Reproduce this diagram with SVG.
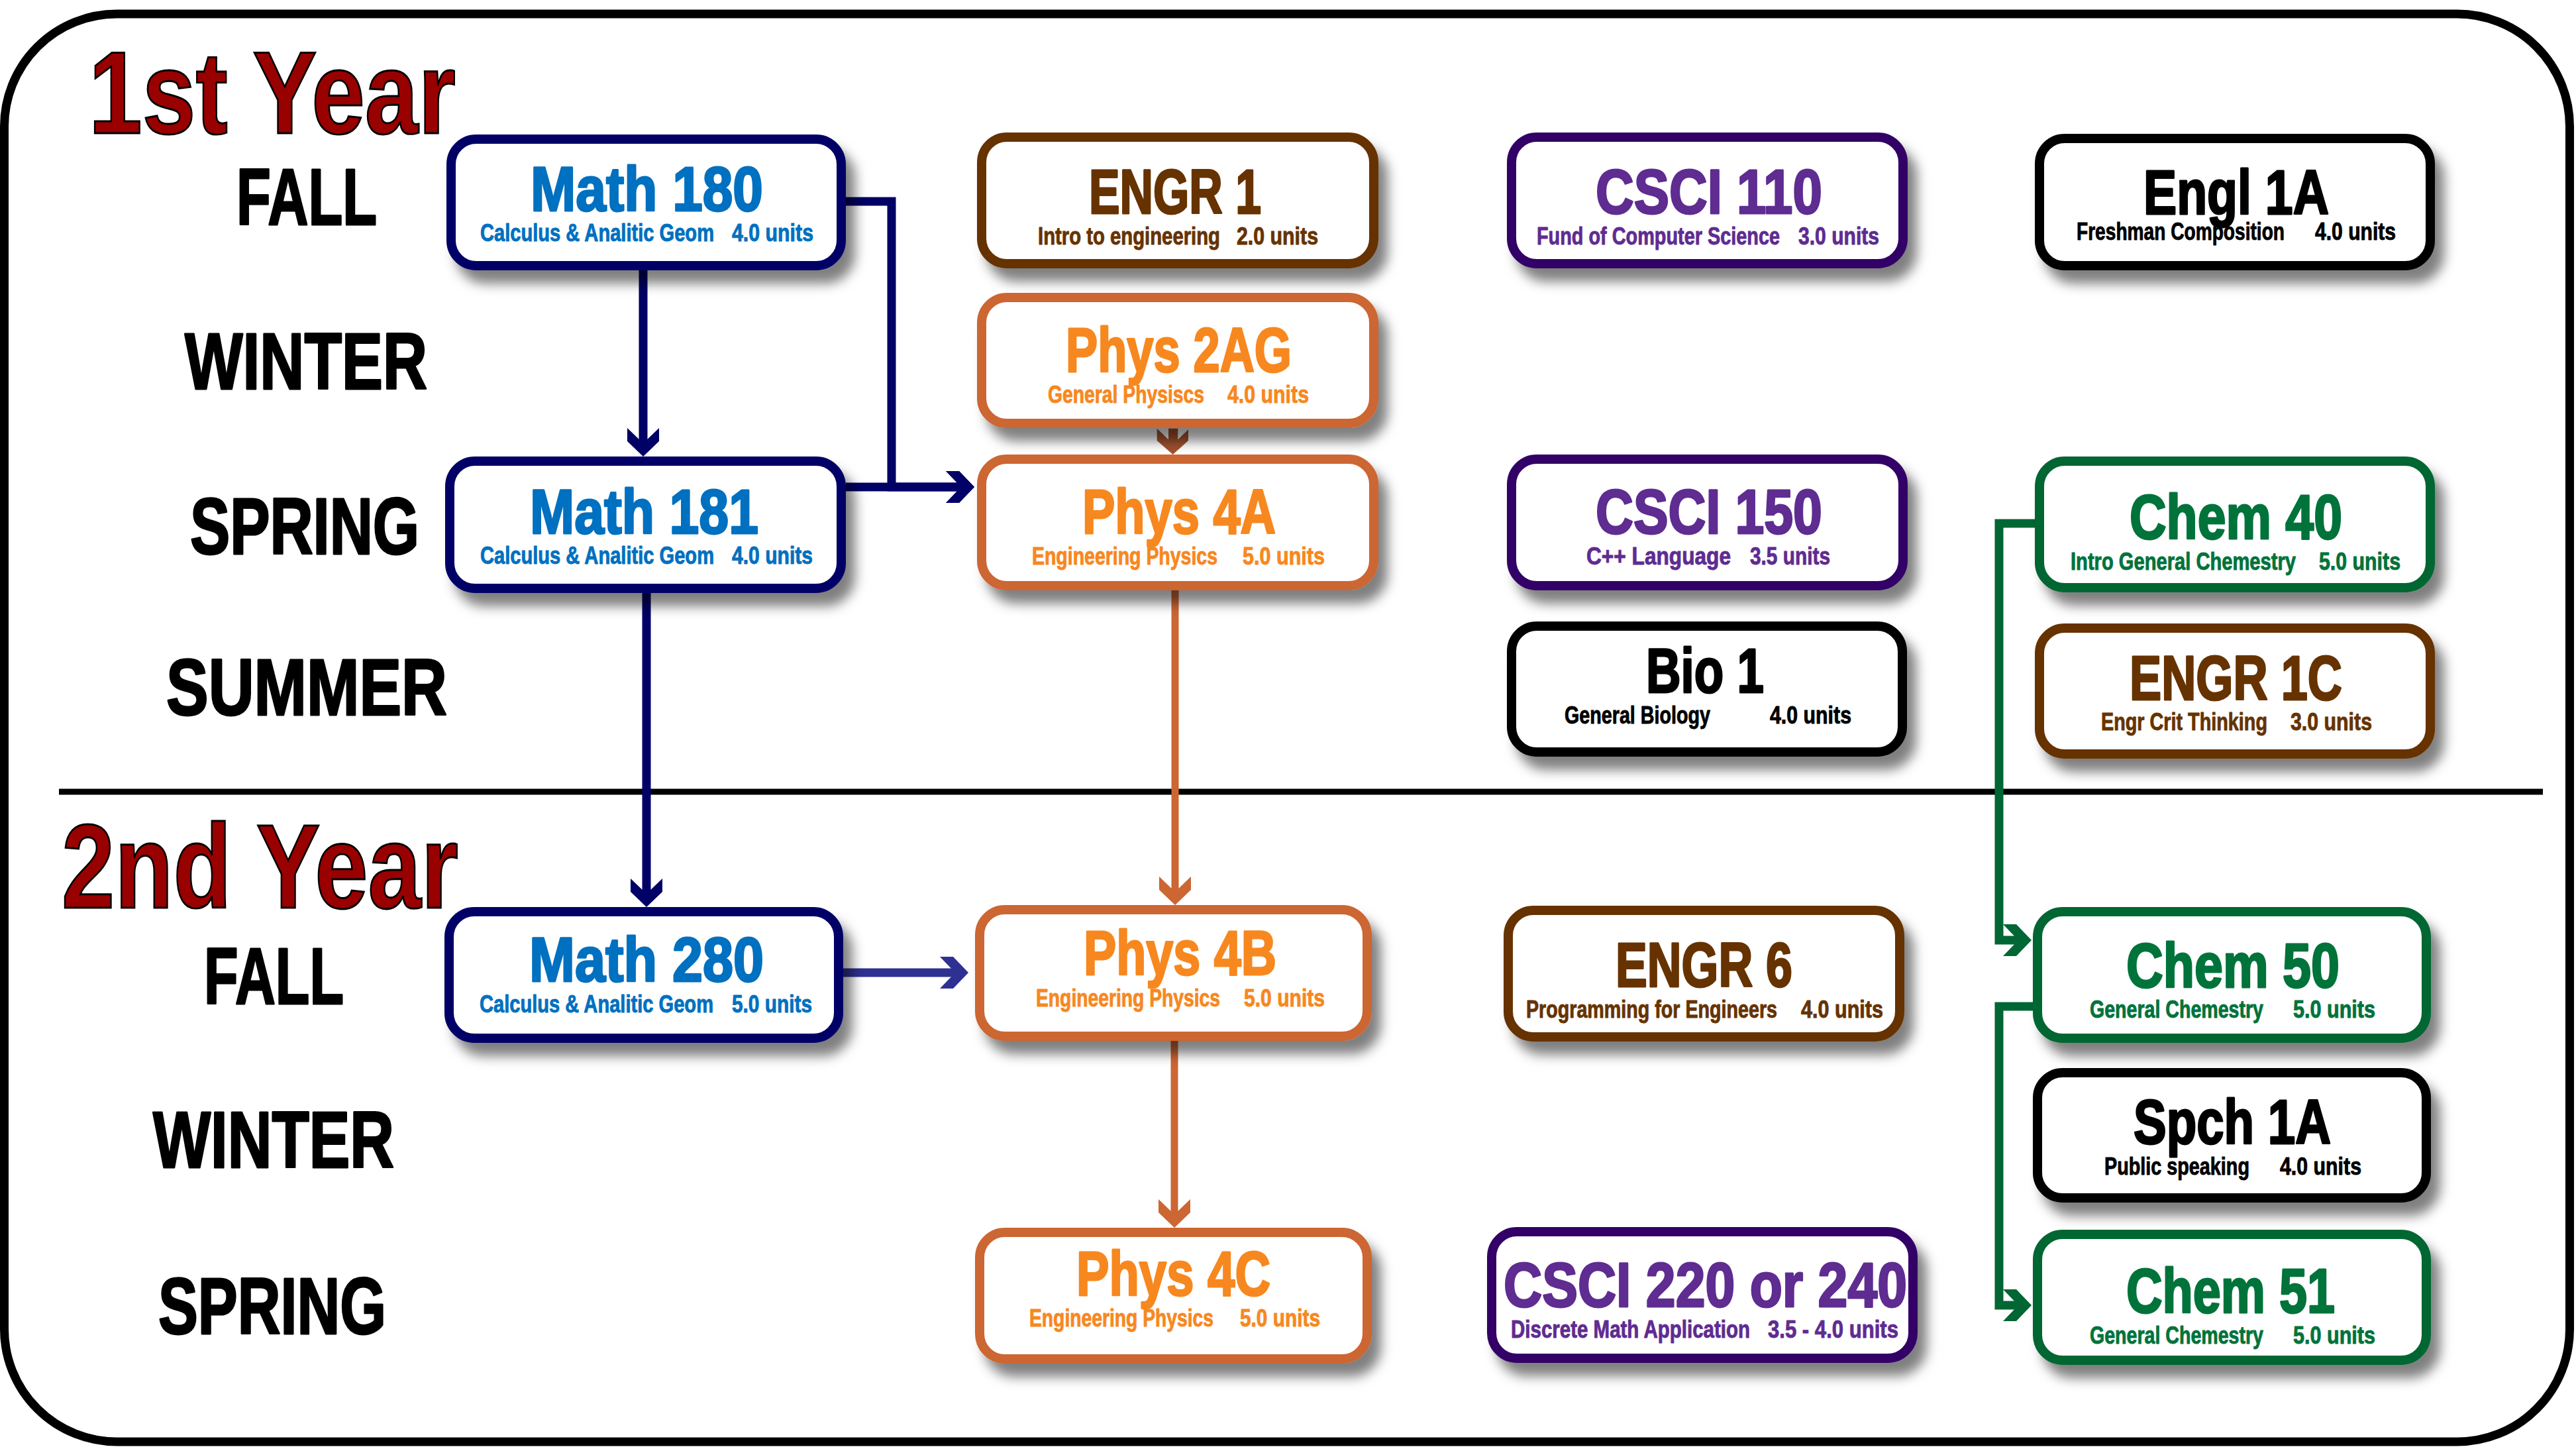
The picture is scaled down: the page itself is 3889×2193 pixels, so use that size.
<svg xmlns="http://www.w3.org/2000/svg" width="3889" height="2193" viewBox="0 0 3889 2193">
<style>
.box{fill:#fff;stroke-width:14;filter:url(#sh)}
.t{font-family:"Liberation Sans Narrow","Liberation Sans",Arial,sans-serif;font-weight:bold;font-size:95px;stroke-width:3;stroke-linejoin:round}
.s{font-family:"Liberation Sans Narrow","Liberation Sans",Arial,sans-serif;font-weight:bold;font-size:36px;stroke-width:0.9;stroke-linejoin:round}
.season{font-family:"Liberation Sans",Arial,sans-serif;font-weight:bold;font-size:121px;fill:#000;stroke:#000;stroke-width:3;stroke-linejoin:round}
.yr{font-family:"Liberation Sans",Arial,sans-serif;font-weight:bold;fill:#990000;stroke:#000;stroke-width:3}
.math .box{stroke:#000066}.math text{fill:#0070c0;stroke:#0070c0}
.engr .box{stroke:#663300}.engr text{fill:#663300;stroke:#663300}
.phys .box{stroke:#cc6633}.phys text{fill:#f7881f;stroke:#f7881f}
.csci .box{stroke:#330066}.csci text{fill:#5f2c91;stroke:#5f2c91}
.blk .box{stroke:#000}.blk text{fill:#000;stroke:#000}
.chem .box{stroke:#006633}.chem text{fill:#00733b;stroke:#00733b}
.c{fill:none;stroke-linejoin:miter}
</style>
<defs>
<filter id="sh" x="-10%" y="-15%" width="130%" height="160%">
<feDropShadow dx="14" dy="20" stdDeviation="9" flood-color="#000" flood-opacity="0.5"/>
</filter>
<marker id="ah-navy" viewBox="-46 -26 50 52" refX="-16" refY="0" markerWidth="50" markerHeight="52" markerUnits="userSpaceOnUse" orient="auto"><path d="M0,0 L-23,-24 L-43,-24 L-20,0 L-43,24 L-23,24 Z" fill="#000066"/></marker>
<marker id="ah-indigo" viewBox="-46 -26 50 52" refX="-16" refY="0" markerWidth="50" markerHeight="52" markerUnits="userSpaceOnUse" orient="auto"><path d="M0,0 L-23,-24 L-43,-24 L-20,0 L-43,24 L-23,24 Z" fill="#2e3192"/></marker>
<marker id="ah-orange" viewBox="-46 -26 50 52" refX="-16" refY="0" markerWidth="50" markerHeight="52" markerUnits="userSpaceOnUse" orient="auto"><path d="M0,0 L-23,-24 L-43,-24 L-20,0 L-43,24 L-23,24 Z" fill="#cc6633"/></marker>
<marker id="ah-green" viewBox="-46 -26 50 52" refX="-16" refY="0" markerWidth="50" markerHeight="52" markerUnits="userSpaceOnUse" orient="auto"><path d="M0,0 L-23,-24 L-43,-24 L-20,0 L-43,24 L-23,24 Z" fill="#006633"/></marker>
</defs>
<rect x="0" y="0" width="3889" height="2193" fill="#fff"/>
<rect id="frame" x="6.5" y="21" width="3873" height="2155" rx="170" ry="170" fill="none" stroke="#000" stroke-width="13"/>
<line id="divider" x1="89" y1="1195" x2="3839" y2="1195" stroke="#000" stroke-width="9"/>

<g id="labels">
<text class="yr" x="134" y="201" font-size="177" textLength="554" lengthAdjust="spacingAndGlyphs">1st Year</text>
<text class="season" x="357" y="339" textLength="212" lengthAdjust="spacingAndGlyphs">FALL</text>
<text class="season" x="279" y="587" textLength="366" lengthAdjust="spacingAndGlyphs">WINTER</text>
<text class="season" x="287" y="836" textLength="346" lengthAdjust="spacingAndGlyphs">SPRING</text>
<text class="season" x="251" y="1079" textLength="424" lengthAdjust="spacingAndGlyphs">SUMMER</text>
<text class="yr" x="93" y="1370" font-size="180" textLength="599" lengthAdjust="spacingAndGlyphs">2nd Year</text>
<text class="season" x="308" y="1515" textLength="211" lengthAdjust="spacingAndGlyphs">FALL</text>
<text class="season" x="231" y="1762" textLength="364" lengthAdjust="spacingAndGlyphs">WINTER</text>
<text class="season" x="239" y="2013" textLength="344" lengthAdjust="spacingAndGlyphs">SPRING</text>
</g>

<g id="connectors">
<path class="c" d="M1277,304 H1346 V735 H1455" stroke="#000066" stroke-width="13" marker-end="url(#ah-navy)"/>
<path class="c" d="M1277,735 H1455" stroke="#000066" stroke-width="13" marker-end="url(#ah-navy)"/>
<path class="c" d="M971,408 V673" stroke="#000066" stroke-width="13" marker-end="url(#ah-navy)"/>
<path class="c" d="M976,895 V1353" stroke="#000066" stroke-width="13" marker-end="url(#ah-navy)"/>
<path class="c" d="M1273,1468 H1446" stroke="#2e3192" stroke-width="13" marker-end="url(#ah-indigo)"/>
<polygon points="1746.7,646.7 1764,663.3 1764,646.7 1778.3,646.7 1778.3,663.3 1794,648.3 1794,665 1770.7,686 1746.7,665" fill="#a0522d"/>
<path class="c" d="M1774,891 V1350" stroke="#cc6633" stroke-width="11" marker-end="url(#ah-orange)"/>
<path class="c" d="M1773,1571 V1837" stroke="#cc6633" stroke-width="11" marker-end="url(#ah-orange)"/>
<path class="c" d="M3072,790 H3018 V1419 H3051" stroke="#006633" stroke-width="13" marker-end="url(#ah-green)"/>
<path class="c" d="M3069,1519 H3018 V1970 H3051" stroke="#006633" stroke-width="13" marker-end="url(#ah-green)"/>
</g>

<g id="math180" class="math">
<rect class="box" x="681" y="210" width="589" height="191" rx="38"/>
<text class="t" x="801" y="318" textLength="351" lengthAdjust="spacingAndGlyphs">Math 180</text>
<text class="s" x="725" y="364" textLength="353" lengthAdjust="spacingAndGlyphs">Calculus &amp; Analitic Geom</text>
<text class="s" x="1105" y="364" textLength="123" lengthAdjust="spacingAndGlyphs">4.0 units</text>
</g>
<g id="math181" class="math">
<rect class="box" x="679" y="696" width="591" height="192" rx="38"/>
<text class="t" x="800" y="805" textLength="345" lengthAdjust="spacingAndGlyphs">Math 181</text>
<text class="s" x="725" y="851" textLength="353" lengthAdjust="spacingAndGlyphs">Calculus &amp; Analitic Geom</text>
<text class="s" x="1105" y="851" textLength="122" lengthAdjust="spacingAndGlyphs">4.0 units</text>
</g>
<g id="math280" class="math">
<rect class="box" x="678" y="1376" width="588" height="191" rx="38"/>
<text class="t" x="799" y="1481" textLength="354" lengthAdjust="spacingAndGlyphs">Math 280</text>
<text class="s" x="724" y="1528" textLength="353" lengthAdjust="spacingAndGlyphs">Calculus &amp; Analitic Geom</text>
<text class="s" x="1105" y="1528" textLength="121" lengthAdjust="spacingAndGlyphs">5.0 units</text>
</g>
<g id="engr1" class="engr">
<rect class="box" x="1482" y="207" width="592" height="191" rx="38"/>
<text class="t" x="1644" y="322" textLength="260" lengthAdjust="spacingAndGlyphs">ENGR 1</text>
<text class="s" x="1567" y="369" textLength="275" lengthAdjust="spacingAndGlyphs">Intro to engineering</text>
<text class="s" x="1867" y="369" textLength="123" lengthAdjust="spacingAndGlyphs">2.0 units</text>
</g>
<g id="phys2ag" class="phys">
<rect class="box" x="1482" y="449" width="592" height="190" rx="38"/>
<text class="t" x="1609" y="561" textLength="341" lengthAdjust="spacingAndGlyphs">Phys 2AG</text>
<text class="s" x="1582" y="608" textLength="236" lengthAdjust="spacingAndGlyphs">General Physiscs</text>
<text class="s" x="1853" y="608" textLength="123" lengthAdjust="spacingAndGlyphs">4.0 units</text>
</g>
<g id="phys4a" class="phys">
<rect class="box" x="1482" y="693" width="592" height="191" rx="38"/>
<text class="t" x="1634" y="805" textLength="292" lengthAdjust="spacingAndGlyphs">Phys 4A</text>
<text class="s" x="1558" y="852" textLength="280" lengthAdjust="spacingAndGlyphs">Engineering Physics</text>
<text class="s" x="1876" y="852" textLength="124" lengthAdjust="spacingAndGlyphs">5.0 units</text>
</g>
<g id="phys4b" class="phys">
<rect class="box" x="1479" y="1373" width="585" height="191" rx="38"/>
<text class="t" x="1636" y="1471" textLength="291" lengthAdjust="spacingAndGlyphs">Phys 4B</text>
<text class="s" x="1564" y="1519" textLength="278" lengthAdjust="spacingAndGlyphs">Engineering Physics</text>
<text class="s" x="1878" y="1519" textLength="122" lengthAdjust="spacingAndGlyphs">5.0 units</text>
</g>
<g id="phys4c" class="phys">
<rect class="box" x="1479" y="1860" width="585" height="191" rx="38"/>
<text class="t" x="1625" y="1955" textLength="293" lengthAdjust="spacingAndGlyphs">Phys 4C</text>
<text class="s" x="1554" y="2002" textLength="278" lengthAdjust="spacingAndGlyphs">Engineering Physics</text>
<text class="s" x="1872" y="2002" textLength="121" lengthAdjust="spacingAndGlyphs">5.0 units</text>
</g>
<g id="csci110" class="csci">
<rect class="box" x="2282" y="207" width="591" height="191" rx="38"/>
<text class="t" x="2409" y="322" textLength="342" lengthAdjust="spacingAndGlyphs">CSCI 110</text>
<text class="s" x="2320" y="369" textLength="367" lengthAdjust="spacingAndGlyphs">Fund of Computer Science</text>
<text class="s" x="2715" y="369" textLength="122" lengthAdjust="spacingAndGlyphs">3.0 units</text>
</g>
<g id="csci150" class="csci">
<rect class="box" x="2282" y="693" width="591" height="191" rx="38"/>
<text class="t" x="2409" y="805" textLength="342" lengthAdjust="spacingAndGlyphs">CSCI 150</text>
<text class="s" x="2395" y="852" textLength="218" lengthAdjust="spacingAndGlyphs">C++ Language</text>
<text class="s" x="2642" y="852" textLength="121" lengthAdjust="spacingAndGlyphs">3.5 units</text>
</g>
<g id="bio1" class="blk">
<rect class="box" x="2282" y="945" width="590" height="190" rx="38"/>
<text class="t" x="2485" y="1045" textLength="178" lengthAdjust="spacingAndGlyphs">Bio 1</text>
<text class="s" x="2362" y="1092" textLength="220" lengthAdjust="spacingAndGlyphs">General Biology</text>
<text class="s" x="2672" y="1092" textLength="123" lengthAdjust="spacingAndGlyphs">4.0 units</text>
</g>
<g id="engr6" class="engr">
<rect class="box" x="2277" y="1374" width="591" height="191" rx="38"/>
<text class="t" x="2439" y="1489" textLength="267" lengthAdjust="spacingAndGlyphs">ENGR 6</text>
<text class="s" x="2304" y="1536" textLength="379" lengthAdjust="spacingAndGlyphs">Programming for Engineers</text>
<text class="s" x="2719" y="1536" textLength="124" lengthAdjust="spacingAndGlyphs">4.0 units</text>
</g>
<g id="csci220" class="csci">
<rect class="box" x="2252" y="1859" width="636" height="191" rx="38"/>
<text class="t" x="2270" y="1972" textLength="609" lengthAdjust="spacingAndGlyphs">CSCI 220 or 240</text>
<text class="s" x="2281" y="2019" textLength="361" lengthAdjust="spacingAndGlyphs">Discrete Math Application</text>
<text class="s" x="2669" y="2019" textLength="197" lengthAdjust="spacingAndGlyphs">3.5 - 4.0 units</text>
</g>
<g id="engl1a" class="blk">
<rect class="box" x="3079" y="209" width="590" height="192" rx="38"/>
<text class="t" x="3236" y="323" textLength="280" lengthAdjust="spacingAndGlyphs">Engl 1A</text>
<text class="s" x="3135" y="362" textLength="314" lengthAdjust="spacingAndGlyphs">Freshman Composition</text>
<text class="s" x="3495" y="362" textLength="122" lengthAdjust="spacingAndGlyphs">4.0 units</text>
</g>
<g id="chem40" class="chem">
<rect class="box" x="3079" y="696" width="590" height="191" rx="38"/>
<text class="t" x="3215" y="813" textLength="321" lengthAdjust="spacingAndGlyphs">Chem 40</text>
<text class="s" x="3126" y="860" textLength="340" lengthAdjust="spacingAndGlyphs">Intro General Chemestry</text>
<text class="s" x="3501" y="860" textLength="123" lengthAdjust="spacingAndGlyphs">5.0 units</text>
</g>
<g id="engr1c" class="engr">
<rect class="box" x="3079" y="948" width="590" height="190" rx="38"/>
<text class="t" x="3215" y="1056" textLength="321" lengthAdjust="spacingAndGlyphs">ENGR 1C</text>
<text class="s" x="3172" y="1102" textLength="251" lengthAdjust="spacingAndGlyphs">Engr Crit Thinking</text>
<text class="s" x="3458" y="1102" textLength="123" lengthAdjust="spacingAndGlyphs">3.0 units</text>
</g>
<g id="chem50" class="chem">
<rect class="box" x="3076" y="1376" width="587" height="191" rx="38"/>
<text class="t" x="3210" y="1490" textLength="322" lengthAdjust="spacingAndGlyphs">Chem 50</text>
<text class="s" x="3155" y="1536" textLength="262" lengthAdjust="spacingAndGlyphs">General Chemestry</text>
<text class="s" x="3462" y="1536" textLength="124" lengthAdjust="spacingAndGlyphs">5.0 units</text>
</g>
<g id="spch1a" class="blk">
<rect class="box" x="3076" y="1619" width="587" height="189" rx="38"/>
<text class="t" x="3221" y="1726" textLength="298" lengthAdjust="spacingAndGlyphs">Spch 1A</text>
<text class="s" x="3177" y="1773" textLength="219" lengthAdjust="spacingAndGlyphs">Public speaking</text>
<text class="s" x="3442" y="1773" textLength="123" lengthAdjust="spacingAndGlyphs">4.0 units</text>
</g>
<g id="chem51" class="chem">
<rect class="box" x="3076" y="1863" width="587" height="190" rx="38"/>
<text class="t" x="3210" y="1981" textLength="315" lengthAdjust="spacingAndGlyphs">Chem 51</text>
<text class="s" x="3155" y="2028" textLength="262" lengthAdjust="spacingAndGlyphs">General Chemestry</text>
<text class="s" x="3462" y="2028" textLength="124" lengthAdjust="spacingAndGlyphs">5.0 units</text>
</g>
</svg>
